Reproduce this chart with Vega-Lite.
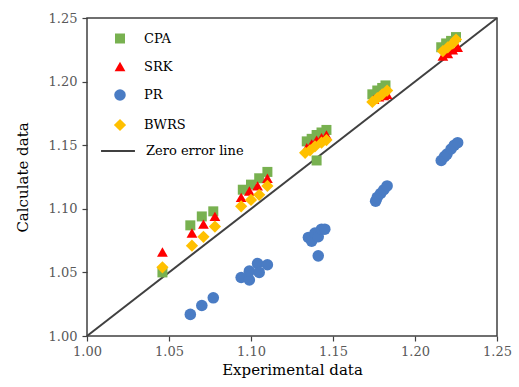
{
  "$schema": "https://vega.github.io/schema/vega-lite/v6.json",
  "width": 410,
  "height": 318,
  "autosize": "none",
  "padding": {"left": 87, "top": 18, "right": 22, "bottom": 51},
  "background": "white",
  "config": {
    "view": {"stroke": "#404040", "strokeWidth": 1.5},
    "font": "DejaVu Serif",
    "axis": {"grid": false, "domain": false, "labelFont": "DejaVu Serif", "titleFont": "DejaVu Serif", "labelFontSize": 13, "labelColor": "#595959", "titleFontSize": 15, "titleFontWeight": "normal", "titleColor": "#000000", "tickColor": "#404040", "tickSize": 5, "tickWidth": 1.2, "labelFlush": false},
    "legend": {"labelFont": "DejaVu Serif", "labelFontSize": 13, "labelColor": "#000000"}
  },
  "datasets": {
    "pts": [
      {"model": "CPA", "exp": 1.046, "calc": 1.050},
      {"model": "CPA", "exp": 1.063, "calc": 1.087},
      {"model": "CPA", "exp": 1.070, "calc": 1.094},
      {"model": "CPA", "exp": 1.077, "calc": 1.098},
      {"model": "CPA", "exp": 1.095, "calc": 1.115},
      {"model": "CPA", "exp": 1.100, "calc": 1.119},
      {"model": "CPA", "exp": 1.105, "calc": 1.124},
      {"model": "CPA", "exp": 1.110, "calc": 1.129},
      {"model": "CPA", "exp": 1.134, "calc": 1.153},
      {"model": "CPA", "exp": 1.137, "calc": 1.155},
      {"model": "CPA", "exp": 1.140, "calc": 1.158},
      {"model": "CPA", "exp": 1.143, "calc": 1.160},
      {"model": "CPA", "exp": 1.146, "calc": 1.162},
      {"model": "CPA", "exp": 1.140, "calc": 1.138},
      {"model": "CPA", "exp": 1.174, "calc": 1.190},
      {"model": "CPA", "exp": 1.177, "calc": 1.193},
      {"model": "CPA", "exp": 1.180, "calc": 1.195},
      {"model": "CPA", "exp": 1.182, "calc": 1.197},
      {"model": "CPA", "exp": 1.216, "calc": 1.227},
      {"model": "CPA", "exp": 1.219, "calc": 1.230},
      {"model": "CPA", "exp": 1.222, "calc": 1.232},
      {"model": "CPA", "exp": 1.225, "calc": 1.235},
      {"model": "SRK", "exp": 1.046, "calc": 1.066},
      {"model": "SRK", "exp": 1.064, "calc": 1.081},
      {"model": "SRK", "exp": 1.071, "calc": 1.088},
      {"model": "SRK", "exp": 1.078, "calc": 1.094},
      {"model": "SRK", "exp": 1.094, "calc": 1.109},
      {"model": "SRK", "exp": 1.099, "calc": 1.114},
      {"model": "SRK", "exp": 1.104, "calc": 1.118},
      {"model": "SRK", "exp": 1.110, "calc": 1.124},
      {"model": "SRK", "exp": 1.134, "calc": 1.148},
      {"model": "SRK", "exp": 1.137, "calc": 1.151},
      {"model": "SRK", "exp": 1.140, "calc": 1.154},
      {"model": "SRK", "exp": 1.143, "calc": 1.156},
      {"model": "SRK", "exp": 1.146, "calc": 1.158},
      {"model": "SRK", "exp": 1.175, "calc": 1.186},
      {"model": "SRK", "exp": 1.178, "calc": 1.188},
      {"model": "SRK", "exp": 1.181, "calc": 1.189},
      {"model": "SRK", "exp": 1.183, "calc": 1.190},
      {"model": "SRK", "exp": 1.217, "calc": 1.220},
      {"model": "SRK", "exp": 1.220, "calc": 1.222},
      {"model": "SRK", "exp": 1.223, "calc": 1.225},
      {"model": "SRK", "exp": 1.226, "calc": 1.227},
      {"model": "PR", "exp": 1.063, "calc": 1.017},
      {"model": "PR", "exp": 1.070, "calc": 1.024},
      {"model": "PR", "exp": 1.077, "calc": 1.030},
      {"model": "PR", "exp": 1.094, "calc": 1.046},
      {"model": "PR", "exp": 1.099, "calc": 1.044},
      {"model": "PR", "exp": 1.099, "calc": 1.051},
      {"model": "PR", "exp": 1.104, "calc": 1.057},
      {"model": "PR", "exp": 1.105, "calc": 1.050},
      {"model": "PR", "exp": 1.110, "calc": 1.056},
      {"model": "PR", "exp": 1.135, "calc": 1.0775},
      {"model": "PR", "exp": 1.137, "calc": 1.0745},
      {"model": "PR", "exp": 1.139, "calc": 1.081},
      {"model": "PR", "exp": 1.141, "calc": 1.078},
      {"model": "PR", "exp": 1.143, "calc": 1.084},
      {"model": "PR", "exp": 1.145, "calc": 1.084},
      {"model": "PR", "exp": 1.141, "calc": 1.063},
      {"model": "PR", "exp": 1.176, "calc": 1.106},
      {"model": "PR", "exp": 1.177, "calc": 1.109},
      {"model": "PR", "exp": 1.179, "calc": 1.112},
      {"model": "PR", "exp": 1.181, "calc": 1.115},
      {"model": "PR", "exp": 1.183, "calc": 1.118},
      {"model": "PR", "exp": 1.216, "calc": 1.138},
      {"model": "PR", "exp": 1.218, "calc": 1.141},
      {"model": "PR", "exp": 1.2195, "calc": 1.143},
      {"model": "PR", "exp": 1.222, "calc": 1.147},
      {"model": "PR", "exp": 1.224, "calc": 1.150},
      {"model": "PR", "exp": 1.226, "calc": 1.152},
      {"model": "BWRS", "exp": 1.046, "calc": 1.054},
      {"model": "BWRS", "exp": 1.064, "calc": 1.071},
      {"model": "BWRS", "exp": 1.071, "calc": 1.078},
      {"model": "BWRS", "exp": 1.078, "calc": 1.086},
      {"model": "BWRS", "exp": 1.094, "calc": 1.102},
      {"model": "BWRS", "exp": 1.100, "calc": 1.107},
      {"model": "BWRS", "exp": 1.105, "calc": 1.111},
      {"model": "BWRS", "exp": 1.110, "calc": 1.118},
      {"model": "BWRS", "exp": 1.133, "calc": 1.144},
      {"model": "BWRS", "exp": 1.136, "calc": 1.146},
      {"model": "BWRS", "exp": 1.139, "calc": 1.149},
      {"model": "BWRS", "exp": 1.143, "calc": 1.152},
      {"model": "BWRS", "exp": 1.146, "calc": 1.154},
      {"model": "BWRS", "exp": 1.174, "calc": 1.184},
      {"model": "BWRS", "exp": 1.177, "calc": 1.187},
      {"model": "BWRS", "exp": 1.180, "calc": 1.190},
      {"model": "BWRS", "exp": 1.183, "calc": 1.193},
      {"model": "BWRS", "exp": 1.217, "calc": 1.224},
      {"model": "BWRS", "exp": 1.220, "calc": 1.227},
      {"model": "BWRS", "exp": 1.223, "calc": 1.230},
      {"model": "BWRS", "exp": 1.225, "calc": 1.233}
    ],
    "ref": [
      {"name": "Zero error line", "exp": 1.0, "calc": 1.0},
      {"name": "Zero error line", "exp": 1.25, "calc": 1.25}
    ]
  },
  "layer": [
    {
      "data": {"name": "ref"},
      "mark": {"type": "line", "strokeWidth": 2},
      "encoding": {
        "x": {"field": "exp", "type": "quantitative", "scale": {"domain": [1.0, 1.25], "nice": false, "zero": false}, "axis": {"title": "Experimental data", "values": [1.0, 1.05, 1.1, 1.15, 1.2, 1.25], "format": ".2f", "labelPadding": 4, "titlePadding": 4, "labelFlush": false}},
        "y": {"field": "calc", "type": "quantitative", "scale": {"domain": [1.0, 1.25], "nice": false, "zero": false}, "axis": {"title": "Calculate data", "values": [1.0, 1.05, 1.1, 1.15, 1.2, 1.25], "format": ".2f", "labelPadding": 5, "titlePadding": 18, "labelFlush": false}},
        "stroke": {"field": "name", "type": "nominal", "scale": {"range": ["#404040"]}, "legend": {"title": null, "orient": "none", "legendX": 13, "legendY": 115, "symbolSize": 1150, "symbolStrokeWidth": 2, "labelOffset": 10, "padding": 0}}
      }
    },
    {
      "data": {"name": "pts"},
      "mark": {"type": "point", "filled": true, "opacity": 1},
      "encoding": {
        "x": {"field": "exp", "type": "quantitative"},
        "y": {"field": "calc", "type": "quantitative"},
        "size": {"field": "model", "type": "nominal", "scale": {"domain": ["CPA", "SRK", "PR", "BWRS"], "range": [100, 150, 90, 100]}, "legend": null},
        "color": {"field": "model", "type": "nominal", "scale": {"domain": ["CPA", "SRK", "PR", "BWRS"], "range": ["#78B150", "#FF0000", "#4A7CC4", "#FFC000"]}, "legend": {"title": null, "orient": "none", "legendX": 26, "legendY": 14, "symbolSize": 100, "symbolOpacity": 1, "labelOffset": 17, "rowPadding": 11, "padding": 0}},
        "shape": {"field": "model", "type": "nominal", "scale": {"domain": ["CPA", "SRK", "PR", "BWRS"], "range": ["square", "triangle-up", "circle", "diamond"]}}
      }
    }
  ]
}
